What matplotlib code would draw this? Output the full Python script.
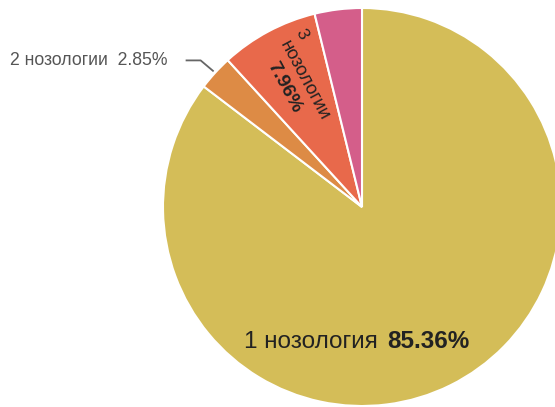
import matplotlib
matplotlib.use('Agg')
import matplotlib.pyplot as plt
import numpy as np

categories = ['1 нозология', '2 нозологии', '3 нозологии', 'прочие']
values = [85.36, 2.85, 7.96, 3.83]
pct_labels = ['85.36%', '2.85%', '7.96%', '']
colors = ['#D4BD58', '#DD8B45', '#E8694B', '#D45E8A']

plt.rcParams['font.family'] = ['Liberation Sans', 'DejaVu Sans']

W, H = 555, 407
fig = plt.figure(figsize=(W / 100, H / 100), dpi=100)
ax = fig.add_axes([0, 0, 1, 1])
cx, cy, R = 362, H - 207, 199
wedges, _ = ax.pie(values, colors=colors, startangle=90, counterclock=False,
                   center=(cx, cy), radius=R,
                   wedgeprops=dict(edgecolor='white', linewidth=1.5))
ax.set_xlim(0, W)
ax.set_ylim(0, H)
ax.set_aspect('equal')
ax.axis('off')


def mid(w):
    return np.deg2rad((w.theta1 + w.theta2) / 2)


# Label for slice 1 (inside, horizontal)
ax.text(cx + 0.115 * R, cy - 0.677 * R, categories[0] + ' ', ha='right', va='center',
        fontsize=17.5, color='#222222')
ax.text(cx + 0.125 * R, cy - 0.677 * R, pct_labels[0], ha='left', va='center',
        fontsize=17.5, color='#222222', fontweight='bold')

# Label for slice 2 (outside with leader line)
t = mid(wedges[1])
ex, ey = cx + 1.01 * R * np.cos(t), cy + 1.01 * R * np.sin(t)
ax.plot([ex, ex - 13, ex - 28], [ey, ey + 11, ey + 11], color='#666666', lw=1.3,
        solid_capstyle='butt')
ax.text(ex - 46, ey + 11, categories[1] + '  ' + pct_labels[1], ha='right', va='center',
        fontsize=12.7, color='#555555')

# Label for slice 3 (inside, radial)
t = mid(wedges[2])
rot = np.rad2deg(t) - 180
u = np.array([np.cos(t), np.sin(t)])
p = np.array([np.sin(t), -np.cos(t)])
num, word = categories[2].split(' ')
for txt, rad, perp, fs, fw in [(num, 181, 28, 12.5, 'normal'),
                               (word, 139, 9, 13.5, 'normal'),
                               (pct_labels[2], 142, -12, 14, 'bold')]:
    pos = np.array([cx, cy]) + rad * u + perp * p
    ax.text(pos[0], pos[1], txt, rotation=rot, rotation_mode='anchor',
            ha='center', va='center', fontsize=fs, fontweight=fw, color='#222222')

fig.savefig('out.png', dpi=100)
